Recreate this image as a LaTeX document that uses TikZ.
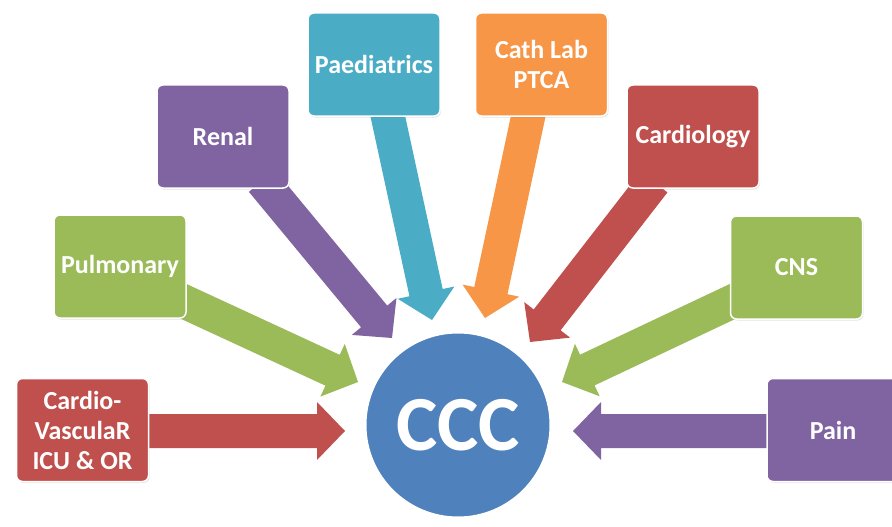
\documentclass[tikz,border=0pt]{standalone}
\usepackage{fontspec}
\setmainfont{Carlito}
\usetikzlibrary{calc,shadows,backgrounds}
\definecolor{cred}{HTML}{C0504D}
\definecolor{cgreen}{HTML}{9BBB59}
\definecolor{cpurple}{HTML}{8064A2}
\definecolor{cteal}{HTML}{4BACC6}
\definecolor{corange}{HTML}{F79646}
\definecolor{cblue}{HTML}{4F81BD}
\tikzset{
  dept/.style={fill=#1, draw=white, line width=1.5pt, rounded corners=6pt,
    minimum width=132pt, minimum height=103pt, inner sep=0pt, text=white,
    align=center, font=\fontsize{26}{30}\selectfont\bfseries,
    drop shadow={opacity=0.22, shadow xshift=1pt, shadow yshift=-1.5pt}},
  hub/.style={circle, fill=cblue, draw=white, line width=3pt,
    minimum size=186pt, inner sep=0pt, text=white,
    font=\fontsize{78}{80}\selectfont\bfseries,
    drop shadow={opacity=0.18, shadow xshift=0.5pt, shadow yshift=-1pt}}
}
% block arrow: colour, start coordinate, tip coordinate
\newcommand{\barrow}[3]{%
  \coordinate (hb) at ($(#3)!28pt!(#2)$);
  \fill[#1] ($(#2)!17pt!90:(#3)$) -- ($(hb)!17pt!90:(#3)$) -- ($(hb)!29pt!90:(#3)$)
    -- (#3) -- ($(hb)!29pt!-90:(#3)$) -- ($(hb)!17pt!-90:(#3)$)
    -- ($(#2)!17pt!-90:(#3)$) -- cycle;}
\begin{document}
\begin{tikzpicture}[x=1pt,y=-1pt]
\useasboundingbox (0,0) rectangle (892,527);
\clip (0,0) rectangle (892,527);
% departments
\node[dept=cred]    (cv)    at (82.5,430)  {Cardio-\\VasculaR\\ICU \& OR};
\node[dept=cgreen]  (pulm)  at (120,266.5) {Pulmonary};
\node[dept=cpurple] (renal) at (223,136.5) {Renal};
\node[dept=cteal]   (paed)  at (374,64.5)  {Paediatrics};
\node[dept=corange] (cath)  at (541.5,64.5){Cath Lab\\PTCA};
\node[dept=cred]    (card)  at (693,136.5) {Cardiology};
\node[dept=cgreen]  (cns)   at (796.5,267.5){CNS};
\node[dept=cpurple] (pain)  at (833,430)   {Pain};
% hub
\node[hub] (ccc) at (458,425) {CCC};
% arrow end points
\coordinate (cvS)    at (140,431);  \coordinate (cvT)    at (345,431);
\coordinate (pulmS)  at (172,296);  \coordinate (pulmT)  at (358,382);
\coordinate (renalS) at (262,181);  \coordinate (renalT) at (392,338);
\coordinate (paedS)  at (386,108);  \coordinate (paedT)  at (432,320);
\coordinate (cathS)  at (530,108);  \coordinate (cathT)  at (485,318);
\coordinate (cardS)  at (654,182);  \coordinate (cardT)  at (530,342);
\coordinate (cnsS)   at (742,297);  \coordinate (cnsT)   at (562,382);
\coordinate (painS)  at (776,431);  \coordinate (painT)  at (573,431);
\begin{scope}[on background layer]
  \barrow{cred}{cvS}{cvT}
  \barrow{cgreen}{pulmS}{pulmT}
  \barrow{cpurple}{renalS}{renalT}
  \barrow{cteal}{paedS}{paedT}
  \barrow{corange}{cathS}{cathT}
  \barrow{cred}{cardS}{cardT}
  \barrow{cgreen}{cnsS}{cnsT}
  \barrow{cpurple}{painS}{painT}
\end{scope}
\end{tikzpicture}
\end{document}
